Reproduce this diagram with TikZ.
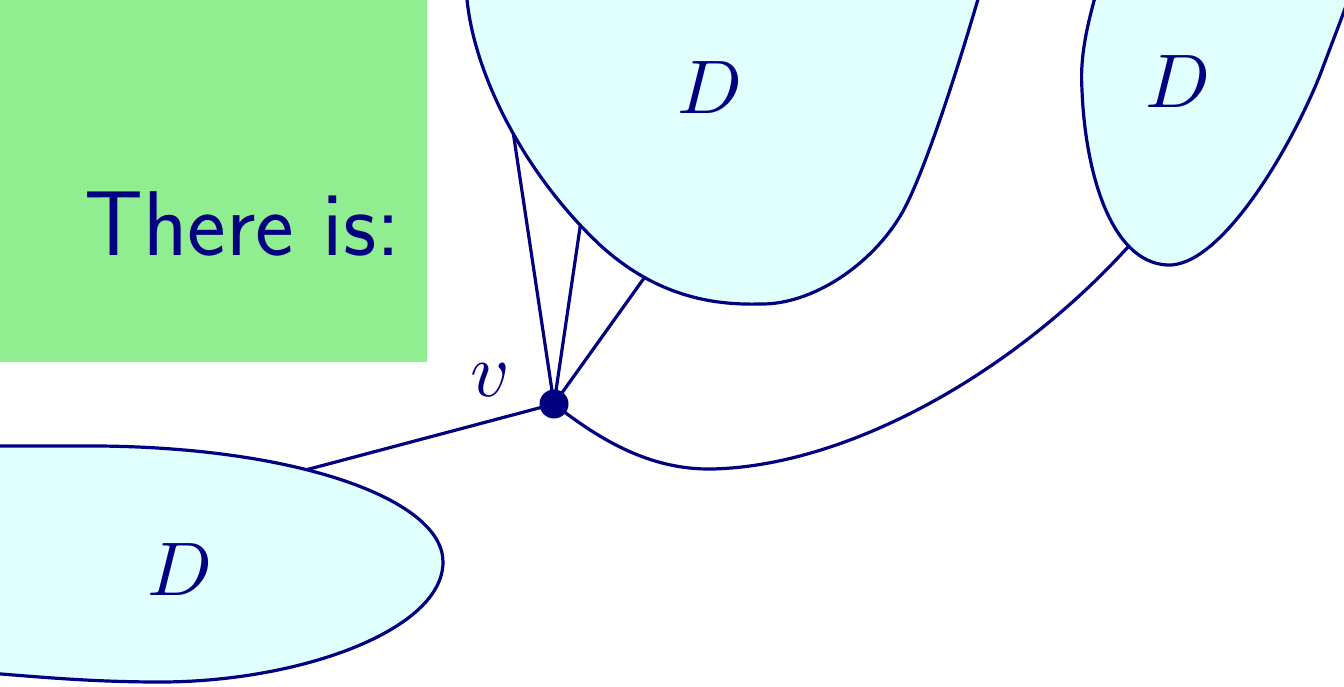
\documentclass[tikz,border=0pt]{standalone}
\definecolor{navyc}{RGB}{0,0,128}
\definecolor{greenbg}{RGB}{144,238,144}
\definecolor{cyanfill}{RGB}{224,255,255}
\tikzset{
  blob/.style={fill=cyanfill, draw=navyc, line width=1.6pt},
  edge/.style={draw=navyc, line width=1.6pt},
  vert/.style={circle, fill=navyc, inner sep=0pt, minimum size=14.5pt},
  dlabel/.style={text=navyc},
}
\newcommand{\blobmath}[1]{\scalebox{3.8}{$#1$}}
\begin{document}
\begin{tikzpicture}[x=0.5pt, y=-0.5pt]
\useasboundingbox (0,0) rectangle (1344,686);
\clip (0,0) rectangle (1344,686);
% green box
\fill[greenbg] (0,-5) rectangle (427,362);
\node[anchor=base east, inner sep=0pt, text=navyc, font=\fontsize{46}{50}\selectfont\sffamily] (title) at (401,255) {There is:};
% vertex position
\coordinate (v) at (554,404);
% edge end points (just inside the blobs)
\coordinate (t1) at (511,118);
\coordinate (t2) at (582,214);
\coordinate (t3) at (652,267);
\coordinate (l1) at (298,472);
\coordinate (r1) at (1136,238);
% edges (drawn first, blobs cover the ends)
\draw[edge] (v) -- (t1);
\draw[edge] (v) -- (t2);
\draw[edge] (v) -- (t3);
\draw[edge] (v) -- (l1);
\draw[edge] (v) .. controls (600,440) and (650,470) .. (712,469)
  .. controls (850,466) and (1020,370) .. (r1);
% top blob
\path[blob] (466,-20) .. controls (466,60) and (520,170) .. (600,245)
  .. controls (660,300) and (720,305) .. (760,304)
  .. controls (812,305) and (872,265) .. (902,213)
  .. controls (922,178) and (955,80) .. (985,-25) -- cycle;
% right blob
\path[blob] (1100,-20) .. controls (1085,30) and (1080,60) .. (1082,90)
  .. controls (1085,170) and (1110,262) .. (1167,265)
  .. controls (1220,268) and (1290,150) .. (1320,75)
  .. controls (1335,35) and (1345,10) .. (1355,-20) -- cycle;
% left blob
\path[blob] (-50,446) -- (100,446) .. controls (300,448) and (443,500) .. (443,562)
  .. controls (443,630) and (300,682) .. (160,682)
  .. controls (80,682) and (20,675) .. (-50,670) -- cycle;
% labels
\node[dlabel] (d1) at (710,88) {\blobmath{D}};
\node[dlabel] (d2) at (1178,82) {\blobmath{D}};
\node[dlabel] (d3) at (180,570) {\blobmath{D}};
\node[vert] (vdot) at (v) {};
\node[dlabel] (vl) at (490,380) {\blobmath{v}};
\end{tikzpicture}
\end{document}
